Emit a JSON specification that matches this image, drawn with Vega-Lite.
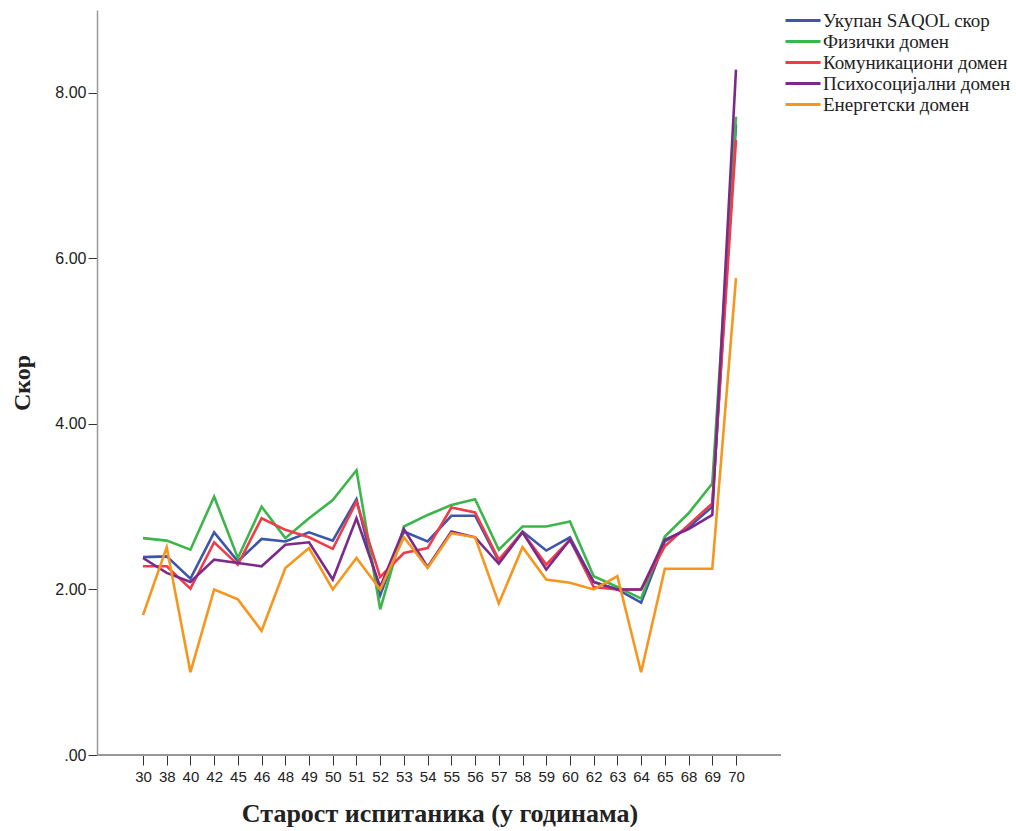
{
  "$schema": "https://vega.github.io/schema/vega-lite/v6.json",
  "width": 684,
  "height": 745,
  "autosize": {"type": "none"},
  "padding": {"left": 97, "top": 10, "right": 235, "bottom": 76},
  "background": "white",
  "config": {"view": {"stroke": null}},
  "data": {"values": [
    {"age": 30, "Укупан SAQOL скор": 2.39, "Физички домен": 2.62, "Комуникациони домен": 2.28, "Психосоцијални домен": 2.38, "Енергетски домен": 1.69},
    {"age": 38, "Укупан SAQOL скор": 2.40, "Физички домен": 2.59, "Комуникациони домен": 2.28, "Психосоцијални домен": 2.20, "Енергетски домен": 2.51},
    {"age": 40, "Укупан SAQOL скор": 2.13, "Физички домен": 2.48, "Комуникациони домен": 2.01, "Психосоцијални домен": 2.09, "Енергетски домен": 1.00},
    {"age": 42, "Укупан SAQOL скор": 2.69, "Физички домен": 3.12, "Комуникациони домен": 2.57, "Психосоцијални домен": 2.36, "Енергетски домен": 2.00},
    {"age": 45, "Укупан SAQOL скор": 2.34, "Физички домен": 2.38, "Комуникациони домен": 2.30, "Психосоцијални домен": 2.32, "Енергетски домен": 1.88},
    {"age": 46, "Укупан SAQOL скор": 2.61, "Физички домен": 3.00, "Комуникациони домен": 2.86, "Психосоцијални домен": 2.28, "Енергетски домен": 1.50},
    {"age": 48, "Укупан SAQOL скор": 2.58, "Физички домен": 2.62, "Комуникациони домен": 2.72, "Психосоцијални домен": 2.54, "Енергетски домен": 2.26},
    {"age": 49, "Укупан SAQOL скор": 2.69, "Физички домен": 2.86, "Комуникациони домен": 2.63, "Психосоцијални домен": 2.57, "Енергетски домен": 2.50},
    {"age": 50, "Укупан SAQOL скор": 2.59, "Физички домен": 3.08, "Комуникациони домен": 2.49, "Психосоцијални домен": 2.12, "Енергетски домен": 2.00},
    {"age": 51, "Укупан SAQOL скор": 3.09, "Физички домен": 3.44, "Комуникациони домен": 3.06, "Психосоцијални домен": 2.86, "Енергетски домен": 2.38},
    {"age": 52, "Укупан SAQOL скор": 1.93, "Физички домен": 1.76, "Комуникациони домен": 2.15, "Психосоцијални домен": 2.03, "Енергетски домен": 2.00},
    {"age": 53, "Укупан SAQOL скор": 2.70, "Физички домен": 2.76, "Комуникациони домен": 2.44, "Психосоцијални домен": 2.73, "Енергетски домен": 2.63},
    {"age": 54, "Укупан SAQOL скор": 2.58, "Физички домен": 2.90, "Комуникациони домен": 2.50, "Психосоцијални домен": 2.27, "Енергетски домен": 2.26},
    {"age": 55, "Укупан SAQOL скор": 2.89, "Физички домен": 3.02, "Комуникациони домен": 2.99, "Психосоцијални домен": 2.70, "Енергетски домен": 2.68},
    {"age": 56, "Укупан SAQOL скор": 2.89, "Физички домен": 3.09, "Комуникациони домен": 2.93, "Психосоцијални домен": 2.63, "Енергетски домен": 2.63},
    {"age": 57, "Укупан SAQOL скор": 2.34, "Физички домен": 2.48, "Комуникациони домен": 2.36, "Психосоцијални домен": 2.31, "Енергетски домен": 1.83},
    {"age": 58, "Укупан SAQOL скор": 2.70, "Физички домен": 2.76, "Комуникациони домен": 2.69, "Психосоцијални домен": 2.69, "Енергетски домен": 2.51},
    {"age": 59, "Укупан SAQOL скор": 2.47, "Физички домен": 2.76, "Комуникациони домен": 2.30, "Психосоцијални домен": 2.24, "Енергетски домен": 2.12},
    {"age": 60, "Укупан SAQOL скор": 2.63, "Физички домен": 2.82, "Комуникациони домен": 2.60, "Психосоцијални домен": 2.60, "Енергетски домен": 2.08},
    {"age": 62, "Укупан SAQOL скор": 2.09, "Физички домен": 2.16, "Комуникациони домен": 2.03, "Психосоцијални домен": 2.09, "Енергетски домен": 2.00},
    {"age": 63, "Укупан SAQOL скор": 2.00, "Физички домен": 2.03, "Комуникациони домен": 2.00, "Психосоцијални домен": 2.00, "Енергетски домен": 2.16},
    {"age": 64, "Укупан SAQOL скор": 1.84, "Физички домен": 1.89, "Комуникациони домен": 2.00, "Психосоцијални домен": 2.00, "Енергетски домен": 1.00},
    {"age": 65, "Укупан SAQOL скор": 2.58, "Физички домен": 2.64, "Комуникациони домен": 2.52, "Психосоцијални домен": 2.60, "Енергетски домен": 2.25},
    {"age": 68, "Укупан SAQOL скор": 2.75, "Физички домен": 2.92, "Комуникациони домен": 2.78, "Психосоцијални домен": 2.73, "Енергетски домен": 2.25},
    {"age": 69, "Укупан SAQOL скор": 3.00, "Физички домен": 3.28, "Комуникациони домен": 3.04, "Психосоцијални домен": 2.90, "Енергетски домен": 2.25},
    {"age": 70, "Укупан SAQOL скор": 7.62, "Физички домен": 7.71, "Комуникациони домен": 7.43, "Психосоцијални домен": 8.28, "Енергетски домен": 5.76}
  ]},
  "layer": [
    {
      "mark": {"type": "rule", "color": "#999", "strokeWidth": 1.5},
      "encoding": {"y": {"datum": 0, "type": "quantitative"}}
    },
    {
      "transform": [
        {"fold": ["Укупан SAQOL скор", "Физички домен", "Комуникациони домен", "Психосоцијални домен", "Енергетски домен"], "as": ["series", "value"]}
      ],
      "mark": {"type": "line", "strokeWidth": 2.6, "strokeJoin": "miter"},
      "encoding": {
        "x": {
          "field": "age", "type": "ordinal",
          "scale": {"type": "point", "padding": 0, "range": [46, 639]},
          "axis": {
            "title": "Старост испитаника (у годинама)",
            "titleFont": "Liberation Serif", "titleFontSize": 26, "titleFontWeight": "bold", "titleColor": "#222",
            "titlePadding": 16,
            "labelAngle": 0, "labelFont": "Liberation Sans", "labelFontSize": 15, "labelColor": "#222",
            "labelPadding": 4, "labelOverlap": false,
            "tickSize": 10, "tickColor": "#333", "domain": false, "grid": false
          }
        },
        "y": {
          "field": "value", "type": "quantitative",
          "scale": {"domain": [0, 9], "nice": false},
          "axis": {
            "title": "Скор",
            "titleFont": "Liberation Serif", "titleFontSize": 24, "titleFontWeight": "bold", "titleColor": "#222",
            "titlePadding": 20,
            "values": [0, 2, 4, 6, 8],
            "labelExpr": "datum.value == 0 ? '.00' : format(datum.value, '.2f')",
            "labelFont": "Liberation Sans", "labelFontSize": 16, "labelColor": "#222", "labelPadding": 2,
            "tickSize": 9, "tickColor": "#333", "domainColor": "#999", "domainWidth": 1.5, "grid": false
          }
        },
        "color": {
          "field": "series", "type": "nominal",
          "sort": ["Укупан SAQOL скор", "Физички домен", "Комуникациони домен", "Психосоцијални домен", "Енергетски домен"],
          "scale": {
            "domain": ["Укупан SAQOL скор", "Физички домен", "Комуникациони домен", "Психосоцијални домен", "Енергетски домен"],
            "range": ["#3d56a8", "#3cb54a", "#ee3c48", "#7b2a8c", "#f7961f"]
          },
          "legend": {
            "title": null, "orient": "none", "legendX": 686, "legendY": 1,
            "symbolType": "M-1,0H4", "symbolSize": 196, "symbolStrokeWidth": 3,
            "labelFont": "Liberation Serif", "labelFontSize": 19, "labelColor": "#222", "labelLimit": 0,
            "labelOffset": 21, "rowPadding": 1
          }
        },
        "order": {"field": "age"}
      }
    }
  ]
}
